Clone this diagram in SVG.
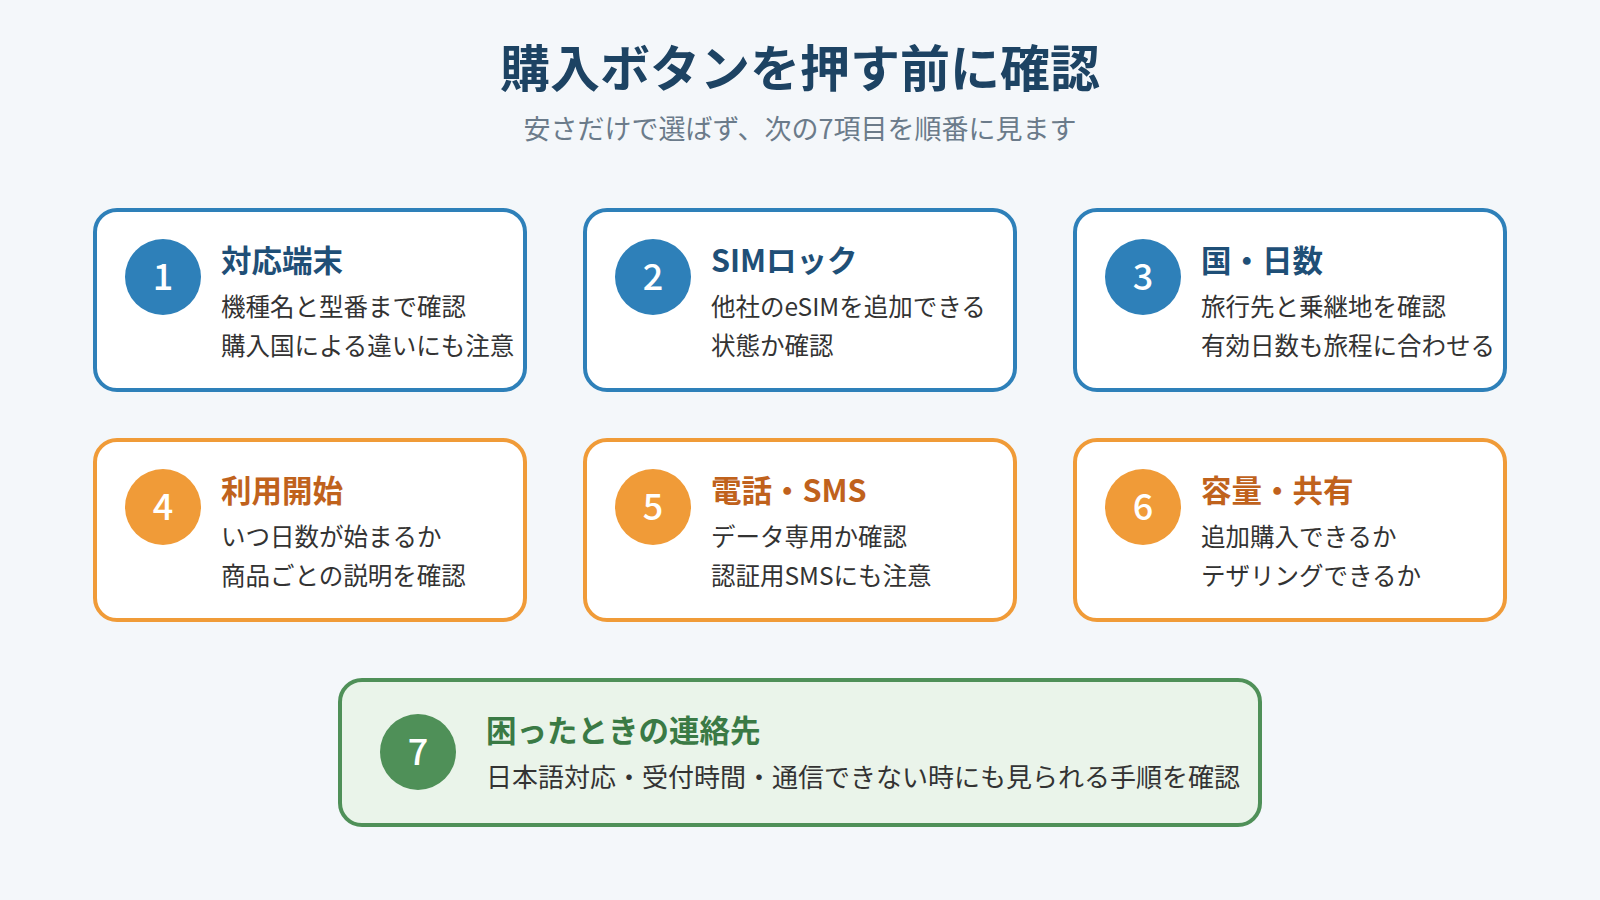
<svg xmlns="http://www.w3.org/2000/svg" width="1600" height="900" viewBox="0 0 1600 900">
<style>
text{font-family:"Noto Sans CJK JP","Noto Sans",sans-serif}
.card{fill:#fff;stroke-width:4}
.b .card{stroke:#2e80b9}.o .card{stroke:#f09b38}.g .card{stroke:#4f9058;fill:#eaf4ea}
.b circle{fill:#2e80b9}.o circle{fill:#f09b38}.g circle{fill:#4f9058}
.num{fill:#fff;font-size:36px;font-weight:500;text-anchor:middle}
.h{font-size:30.5px;font-weight:700}
.b .h{fill:#1f4f77}.o .h{fill:#c0621c}.g .h{fill:#3a7a45}
.t{font-size:24.5px;fill:#333}
.g .t{font-size:26px}
</style>
<rect width="1600" height="900" fill="#f4f7fa"/>
<text x="800" y="87" text-anchor="middle" font-size="50" font-weight="700" fill="#1d4363">購入ボタンを押す前に確認</text>
<text x="800" y="139" text-anchor="middle" font-size="27" fill="#6b7b8a">安さだけで選ばず、次の7項目を順番に見ます</text>
<g id="n1" class="b"><rect class="card" x="95" y="210" width="430" height="180" rx="22"/><circle cx="163" cy="277" r="38"/><text class="num" x="163" y="290">1</text><text class="h" x="221" y="272">対応端末</text><text class="t" x="221" y="316">機種名と型番まで確認</text><text class="t" x="221" y="355">購入国による違いにも注意</text></g>
<g id="n2" class="b"><rect class="card" x="585" y="210" width="430" height="180" rx="22"/><circle cx="653" cy="277" r="38"/><text class="num" x="653" y="290">2</text><text class="h" x="711" y="272">SIMロック</text><text class="t" x="711" y="316">他社のeSIMを追加できる</text><text class="t" x="711" y="355">状態か確認</text></g>
<g id="n3" class="b"><rect class="card" x="1075" y="210" width="430" height="180" rx="22"/><circle cx="1143" cy="277" r="38"/><text class="num" x="1143" y="290">3</text><text class="h" x="1201" y="272">国・日数</text><text class="t" x="1201" y="316">旅行先と乗継地を確認</text><text class="t" x="1201" y="355">有効日数も旅程に合わせる</text></g>
<g id="n4" class="o"><rect class="card" x="95" y="440" width="430" height="180" rx="22"/><circle cx="163" cy="507" r="38"/><text class="num" x="163" y="520">4</text><text class="h" x="221" y="502">利用開始</text><text class="t" x="221" y="546">いつ日数が始まるか</text><text class="t" x="221" y="585">商品ごとの説明を確認</text></g>
<g id="n5" class="o"><rect class="card" x="585" y="440" width="430" height="180" rx="22"/><circle cx="653" cy="507" r="38"/><text class="num" x="653" y="520">5</text><text class="h" x="711" y="502">電話・SMS</text><text class="t" x="711" y="546">データ専用か確認</text><text class="t" x="711" y="585">認証用SMSにも注意</text></g>
<g id="n6" class="o"><rect class="card" x="1075" y="440" width="430" height="180" rx="22"/><circle cx="1143" cy="507" r="38"/><text class="num" x="1143" y="520">6</text><text class="h" x="1201" y="502">容量・共有</text><text class="t" x="1201" y="546">追加購入できるか</text><text class="t" x="1201" y="585">テザリングできるか</text></g>
<g id="n7" class="g"><rect class="card" x="340" y="680" width="920" height="145" rx="22"/><circle cx="418" cy="752" r="38"/><text class="num" x="418" y="765">7</text><text class="h" x="486" y="742">困ったときの連絡先</text><text class="t" x="486" y="787">日本語対応・受付時間・通信できない時にも見られる手順を確認</text></g>
<g id="connectors"/>
</svg>
